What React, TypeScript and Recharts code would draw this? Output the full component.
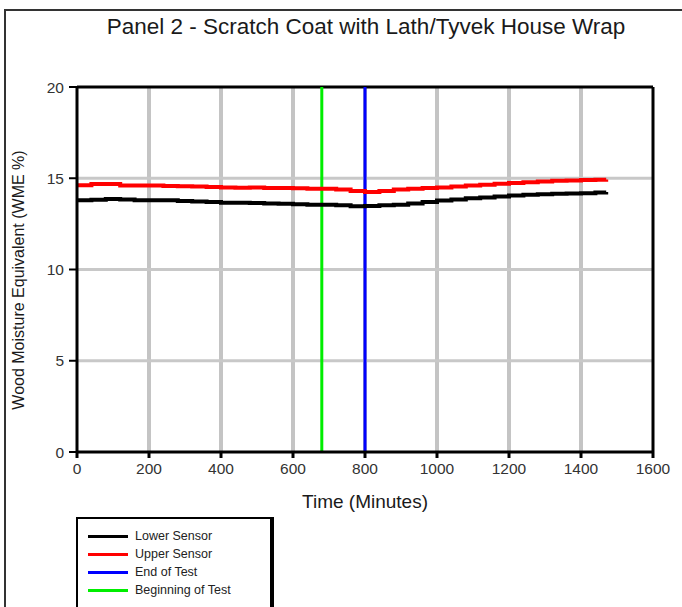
import { CartesianGrid, Line, LineChart, ReferenceLine, XAxis, YAxis } from "recharts";

const TIMES = [
	0, 40, 80, 120, 160, 200, 240, 280, 320, 360, 400, 440, 480, 520, 560, 600, 640, 680, 720, 760, 800,
	840, 880, 920, 960, 1000, 1040, 1080, 1120, 1160, 1200, 1240, 1280, 1320, 1360, 1400, 1440, 1470,
];
const UPPER = [
	14.62, 14.68, 14.68, 14.6, 14.6, 14.6, 14.58, 14.56, 14.55, 14.52, 14.5, 14.48, 14.5, 14.47, 14.47,
	14.45, 14.43, 14.42, 14.38, 14.3, 14.24, 14.3, 14.38, 14.42, 14.47, 14.5, 14.55, 14.6, 14.64, 14.7,
	14.74, 14.78, 14.82, 14.86, 14.88, 14.9, 14.92, 14.93,
];
const LOWER = [
	13.8, 13.82, 13.86, 13.84, 13.8, 13.8, 13.8, 13.76, 13.72, 13.7, 13.66, 13.66, 13.64, 13.62, 13.6,
	13.58, 13.55, 13.55, 13.52, 13.47, 13.48, 13.52, 13.55, 13.62, 13.7, 13.78, 13.84, 13.9, 13.95, 14.0,
	14.05, 14.1, 14.12, 14.15, 14.16, 14.18, 14.22, 14.25,
];
const BEGIN_TEST = 680;
const END_TEST = 800;
const X_TICKS = [0, 200, 400, 600, 800, 1000, 1200, 1400, 1600];
const Y_TICKS = [0, 5, 10, 15, 20];
const V_GRID = [200, 400, 600, 800, 1000, 1200, 1400];
const H_GRID = [5, 10, 15];
const LEGEND = [
	{ label: "Lower Sensor", color: "#000000" },
	{ label: "Upper Sensor", color: "#ff0000" },
	{ label: "End of Test", color: "#0000ff" },
	{ label: "Beginning of Test", color: "#00ee00" },
];

const rows = TIMES.map((t, i) => ({ t, upper: UPPER[i], lower: LOWER[i] }));

const FONT = "'Liberation Sans', Arial, sans-serif";
const tick = { fontSize: 15.5, fill: "#333", fontFamily: FONT };

export default function App() {
	return (
		<div
			style={{
				position: "fixed",
				left: 0,
				top: 0,
				width: 682,
				height: 607,
				background: "#fff",
				overflow: "hidden",
				fontFamily: FONT,
			}}
		>
			<div
				style={{
					position: "absolute",
					left: 4,
					top: 9,
					width: 700,
					height: 700,
					borderTop: "2px solid #333",
					borderLeft: "2px solid #333",
				}}
			/>
			<div
				style={{
					position: "absolute",
					left: 366,
					top: 27,
					transform: "translate(-50%, -50%)",
					whiteSpace: "nowrap",
					fontSize: 22.5,
					color: "#1a1a1a",
				}}
			>
				Panel 2 - Scratch Coat with Lath/Tyvek House Wrap
			</div>
			<div
				style={{
					position: "absolute",
					left: 19,
					top: 280,
					transform: "translate(-50%, -50%) rotate(-90deg)",
					whiteSpace: "nowrap",
					fontSize: 16,
					color: "#1a1a1a",
				}}
			>
				Wood Moisture Equivalent (WME %)
			</div>
			<div
				style={{
					position: "absolute",
					left: 365,
					top: 502,
					transform: "translate(-50%, -50%)",
					whiteSpace: "nowrap",
					fontSize: 19,
					color: "#1a1a1a",
				}}
			>
				Time (Minutes)
			</div>
			<LineChart
				width={682}
				height={607}
				data={rows}
				margin={{ top: 87, right: 29, bottom: 125, left: 17 }}
				style={{ position: "absolute", left: 0, top: 0 }}
			>
				<CartesianGrid
					horizontal={false}
					verticalValues={V_GRID}
					stroke="#c4c4c4"
					strokeWidth={4}
				/>
				<CartesianGrid
					vertical={false}
					horizontalValues={H_GRID}
					stroke="#c8c8c8"
					strokeWidth={3}
				/>
				<XAxis
					type="number"
					dataKey="t"
					domain={[0, 1600]}
					ticks={X_TICKS}
					height={30}
					tick={tick}
					tickSize={6}
					tickMargin={5}
					axisLine={{ stroke: "#000", strokeWidth: 3 }}
					tickLine={{ stroke: "#000", strokeWidth: 3 }}
					allowDataOverflow
				/>
				<YAxis
					type="number"
					domain={[0, 20]}
					ticks={Y_TICKS}
					width={60}
					tick={tick}
					tickSize={8}
					tickMargin={5}
					axisLine={{ stroke: "#000", strokeWidth: 3 }}
					tickLine={{ stroke: "#000", strokeWidth: 2 }}
					allowDataOverflow
				/>
				<ReferenceLine y={20} stroke="#000" strokeWidth={3} />
				<ReferenceLine x={1600} stroke="#000" strokeWidth={3} />
				<ReferenceLine x={BEGIN_TEST} stroke="#00ee00" strokeWidth={3} />
				<ReferenceLine x={END_TEST} stroke="#0000ff" strokeWidth={3} />
				<Line
					type="stepAfter"
					dataKey="lower"
					stroke="#000"
					strokeWidth={4}
					dot={false}
					isAnimationActive={false}
				/>
				<Line
					type="stepAfter"
					dataKey="upper"
					stroke="#ff0000"
					strokeWidth={4}
					dot={false}
					isAnimationActive={false}
				/>
			</LineChart>
			<div
				style={{
					position: "absolute",
					left: 76,
					top: 517,
					width: 192,
					height: 120,
					borderTop: "2px solid #000",
					borderLeft: "2px solid #000",
					borderRight: "4px solid #000",
					background: "#fff",
				}}
			>
				{LEGEND.map((item, i) => (
					<div
						key={item.label}
						style={{
							position: "absolute",
							left: 10,
							top: 9 + i * 18,
							height: 16,
							display: "flex",
							alignItems: "center",
							whiteSpace: "nowrap",
						}}
					>
						<div style={{ width: 40, height: 3, background: item.color, marginRight: 7 }} />
						<span style={{ fontSize: 12.5, color: "#222" }}>{item.label}</span>
					</div>
				))}
			</div>
		</div>
	);
}
